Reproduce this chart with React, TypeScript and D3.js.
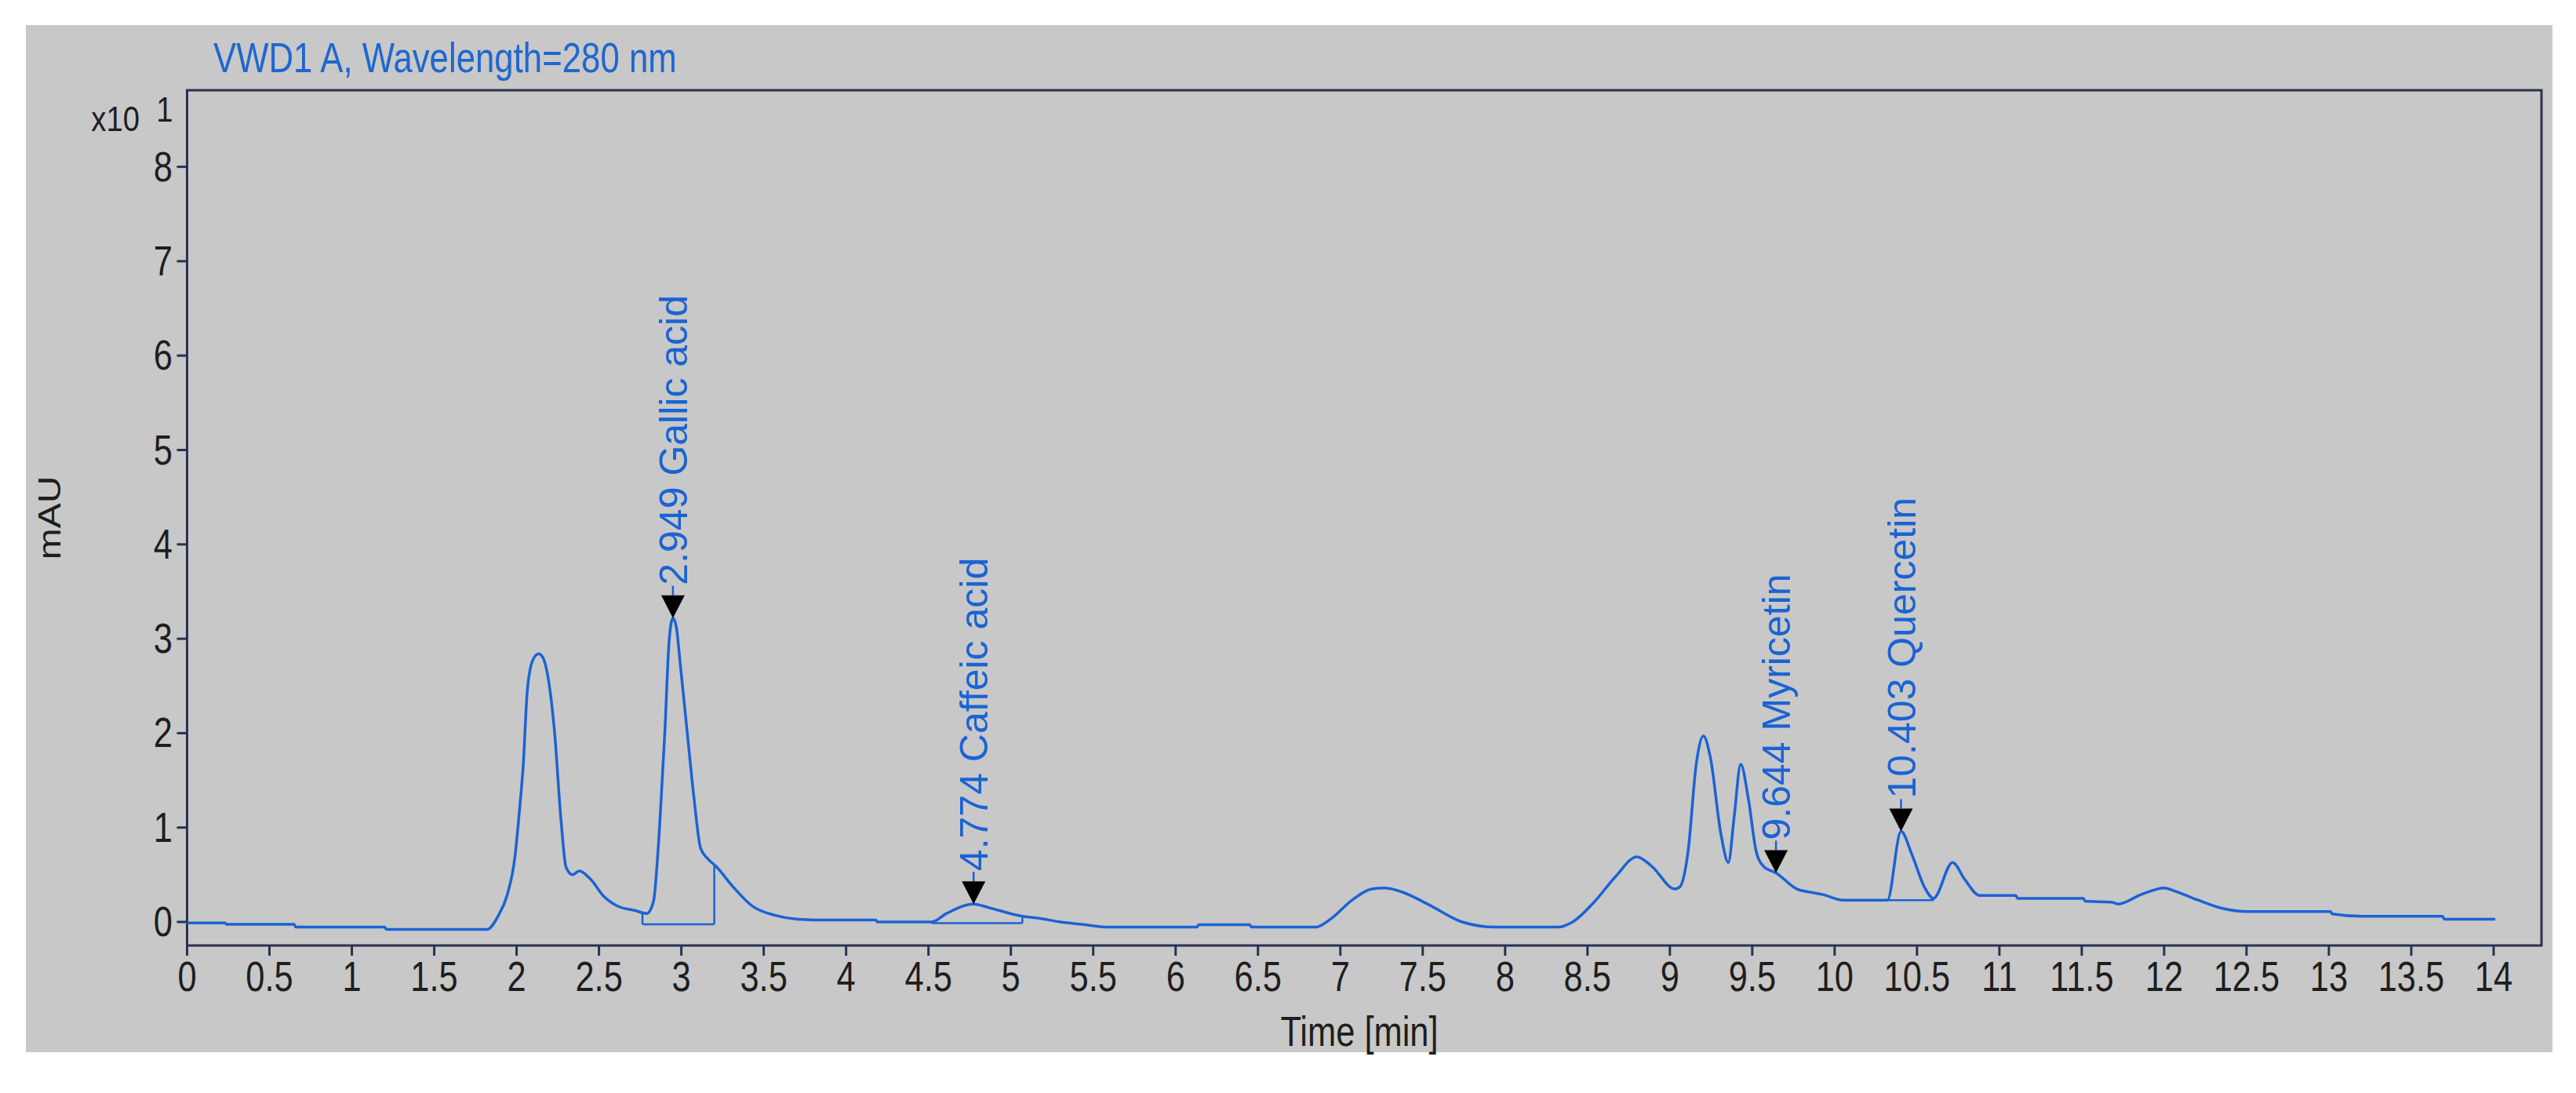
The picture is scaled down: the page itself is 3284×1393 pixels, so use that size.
import React from "react";
import * as d3 from "d3";

// chromatogram trace (time in min, signal in x10 mAU)
const TIME = [
  0, 0.23, 0.24, 0.65, 0.66, 1.2, 1.21, 1.82, 1.89, 1.94, 1.99, 2.02, 2.04, 2.065, 2.1, 2.134, 2.16, 2.188,
  2.23, 2.27, 2.3, 2.34, 2.38, 2.45, 2.53, 2.61, 2.72, 2.79, 2.83, 2.87, 2.9, 2.926, 2.949, 2.97, 2.993,
  3.035, 3.077, 3.117, 3.16, 3.21, 3.32, 3.43, 3.57, 3.705, 3.9, 4.18, 4.19, 4.52, 4.61, 4.774, 4.87, 5.07,
  5.17, 5.3, 5.43, 5.6, 6.13, 6.14, 6.45, 6.46, 6.85, 6.94, 7.07, 7.19, 7.27, 7.37, 7.54, 7.74, 7.94, 8.32,
  8.41, 8.54, 8.67, 8.8, 8.89, 9.03, 9.06, 9.11, 9.16, 9.204, 9.245, 9.31, 9.355, 9.39, 9.43, 9.477, 9.525,
  9.574, 9.644, 9.77, 9.87, 9.93, 10.05, 10.32, 10.403, 10.47, 10.545, 10.6, 10.716, 10.79, 10.88, 11.1,
  11.11, 11.51, 11.52, 11.68, 11.72, 11.86, 12.0, 12.06, 12.2, 12.34, 12.51, 13.01, 13.02, 13.2, 13.69,
  13.7, 14.01,
];
const SIGNAL = [
  -0.01, -0.01, -0.025, -0.025, -0.055, -0.055, -0.08, -0.08, 0.07, 0.27, 0.69, 1.23, 1.65, 2.45, 2.78, 2.84,
  2.8, 2.62, 2.02, 1.07, 0.58, 0.5, 0.54, 0.45, 0.27, 0.17, 0.12, 0.09, 0.21, 1.07, 2.02, 2.98, 3.22, 3.12,
  2.74, 2.02, 1.31, 0.78, 0.67, 0.59, 0.36, 0.17, 0.07, 0.03, 0.02, 0.02, 0.0, 0.0, 0.09, 0.19, 0.15, 0.06,
  0.04, 0.0, -0.025, -0.055, -0.055, -0.03, -0.03, -0.055, -0.055, 0.03, 0.23, 0.35, 0.36, 0.32, 0.18, 0.0,
  -0.055, -0.055, 0.0, 0.21, 0.48, 0.69, 0.59, 0.35, 0.37, 0.74, 1.67, 1.97, 1.75, 0.93, 0.63, 1.11, 1.67,
  1.3, 0.74, 0.58, 0.52, 0.35, 0.31, 0.29, 0.23, 0.23, 0.96, 0.71, 0.37, 0.25, 0.63, 0.45, 0.28, 0.28,
  0.25, 0.25, 0.22, 0.21, 0.19, 0.29, 0.36, 0.33, 0.235, 0.15, 0.11, 0.11, 0.085, 0.06, 0.06, 0.03, 0.03,
];

// labelled peaks
const PEAK_NAMES = ["Gallic acid", "Caffeic acid", "Myricetin", "Quercetin"];
const PEAK_RT = [2.949, 4.774, 9.644, 10.403];
const PEAK_APEX = [3.22, 0.19, 0.52, 0.96];

// integration baselines
const BASE_START = [2.764, 4.52, 10.32];
const BASE_END = [3.2, 5.07, 10.6];
const BASE_LEVEL = [-0.025, -0.012, 0.23];

const X_TICKS = d3.range(0, 14.001, 0.5);
const Y_TICKS = [0, 1, 2, 3, 4, 5, 6, 7, 8];

const W = 3284;
const H = 1393;
const frame = { left: 238.5, top: 115, right: 3240, bottom: 1205 };
const FONT = "'Liberation Sans', Arial, sans-serif";
const BLUE = "#1a63d4";
const AXIS = "#2b3150";
const TXT = "#1e1e1e";

export default function App() {
  const x = d3.scaleLinear().domain([0, 14]).range([238.5, 3179]);
  const y = d3.scaleLinear().domain([0, 8]).range([1175, 212.6]);

  const pts: [number, number][] = TIME.map((t, i) => [t, SIGNAL[i]]);
  const line = d3
    .line<[number, number]>()
    .x((d) => x(d[0]))
    .y((d) => y(d[1]))
    .curve(d3.curveMonotoneX);

  // signal value at a given time, for the drop lines
  const at = (t: number) => {
    const i = d3.bisectLeft(TIME, t);
    if (i <= 0) return SIGNAL[0];
    if (i >= TIME.length) return SIGNAL[SIGNAL.length - 1];
    const f = (t - TIME[i - 1]) / (TIME[i] - TIME[i - 1]);
    return SIGNAL[i - 1] + f * (SIGNAL[i] - SIGNAL[i - 1]);
  };

  return (
    <svg
      width={W}
      height={H}
      style={{ position: "absolute", left: 0, top: 0, background: "#fff" }}
      fontFamily={FONT}
    >
      <rect x={33} y={32} width={3221} height={1309} fill="#c8c8c8" />

      {/* title */}
      <text transform="translate(272,92) scale(0.826,1)" fontSize={53} fill="#1f67cf">
        VWD1 A, Wavelength=280 nm
      </text>

      {/* frame */}
      <rect
        x={frame.left}
        y={frame.top}
        width={frame.right - frame.left}
        height={frame.bottom - frame.top}
        fill="none"
        stroke={AXIS}
        strokeWidth={3}
      />

      {/* y axis */}
      {Y_TICKS.map((v) => (
        <g key={"y" + v}>
          <line x1={frame.left - 13} x2={frame.left} y1={y(v)} y2={y(v)} stroke={AXIS} strokeWidth={3} />
          <text
            transform={`translate(220,${y(v) + 18}) scale(0.82,1)`}
            textAnchor="end"
            fontSize={53}
            fill={TXT}
          >
            {v}
          </text>
        </g>
      ))}
      <text transform="translate(178,167) scale(0.85,1)" textAnchor="end" fontSize={45} fill={TXT}>
        x10
      </text>
      <text transform="translate(210,155) scale(0.85,1)" textAnchor="middle" fontSize={45} fill={TXT}>
        1
      </text>
      <text transform="translate(77,660) rotate(-90) scale(1,0.83)" textAnchor="middle" fontSize={48} fill={TXT}>
        mAU
      </text>

      {/* x axis */}
      {X_TICKS.map((t) => (
        <g key={"x" + t}>
          <line x1={x(t)} x2={x(t)} y1={frame.bottom} y2={frame.bottom + 13} stroke={AXIS} strokeWidth={3} />
          <text
            transform={`translate(${x(t)},1263) scale(0.82,1)`}
            textAnchor="middle"
            fontSize={53}
            fill={TXT}
          >
            {String(t)}
          </text>
        </g>
      ))}
      <text transform="translate(1733,1333) scale(0.82,1)" textAnchor="middle" fontSize={53} fill={TXT}>
        Time [min]
      </text>

      {/* integration baselines */}
      {BASE_START.map((s, i) => {
        const e = BASE_END[i];
        const lv = BASE_LEVEL[i];
        return (
          <g key={"b" + i} stroke={BLUE} strokeWidth={2.5} fill="none">
            <line x1={x(s)} x2={x(e)} y1={y(lv)} y2={y(lv)} />
            <line x1={x(s)} x2={x(s)} y1={y(lv)} y2={y(at(s))} />
            <line x1={x(e)} x2={x(e)} y1={y(lv)} y2={y(at(e))} />
          </g>
        );
      })}

      {/* trace */}
      <path d={line(pts) || ""} fill="none" stroke={BLUE} strokeWidth={3.5} strokeLinejoin="round" />

      {/* peak markers */}
      {PEAK_NAMES.map((name, i) => {
        const cx = x(PEAK_RT[i]);
        const tip = y(PEAK_APEX[i]);
        const top = tip - 29;
        return (
          <g key={name}>
            <line x1={cx} x2={cx} y1={top} y2={top - 12} stroke={BLUE} strokeWidth={2.5} />
            <path d={`M${cx - 15},${top} L${cx + 15},${top} L${cx},${tip} Z`} fill="#000" />
            <text transform={`translate(${cx + 18},${top - 13}) rotate(-90)`} fontSize={50} fill={BLUE}>
              {PEAK_RT[i].toFixed(3) + " " + name}
            </text>
          </g>
        );
      })}
    </svg>
  );
}
